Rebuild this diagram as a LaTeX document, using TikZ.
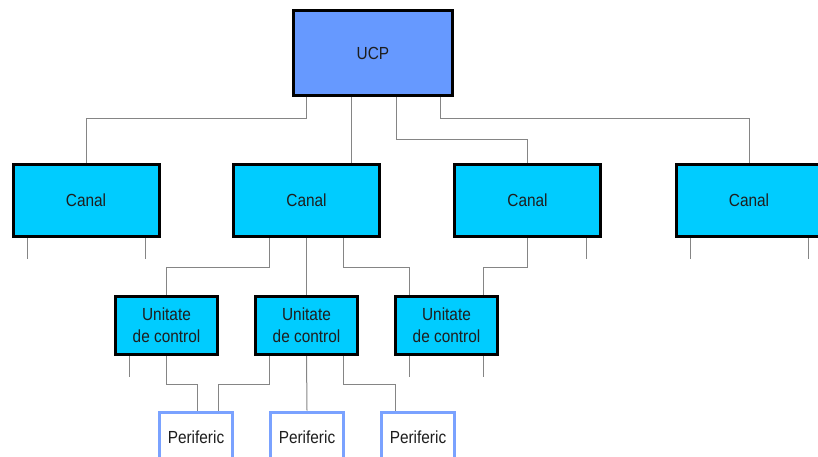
\documentclass[tikz,border=0pt]{standalone}
\usepackage{fontspec}
\setmainfont{Liberation Sans}[FakeStretch=0.88]
\usetikzlibrary{positioning, calc}
\definecolor{ucpBlue}{HTML}{6699FF}
\definecolor{canalCyan}{HTML}{00CCFF}
\definecolor{perBlue}{HTML}{7AA2FF}
\definecolor{linkGray}{HTML}{858585}
\definecolor{txtDark}{HTML}{1E1E1E}

\begin{document}
\begin{tikzpicture}[x=1pt, y=-1pt,
      box/.style={rectangle, draw=black, line width=3pt, align=center,
                  text=txtDark, font=\fontsize{17.5}{22}\selectfont},
      ucpbox/.style={box, fill=ucpBlue, minimum width=159pt, minimum height=85pt},
      canalbox/.style={box, fill=canalCyan, minimum width=146pt, minimum height=72pt},
      unitbox/.style={box, fill=canalCyan, minimum width=102pt, minimum height=58pt},
      perbox/.style={box, draw=perBlue, fill=white, minimum width=73pt, minimum height=50pt},
      link/.style={draw=linkGray, line width=1pt}
    ]
    \useasboundingbox (0,0) rectangle (818,457);
    \clip (0,0) rectangle (818,457);

    \node[ucpbox] (ucp) at (373,53) {UCP};

    \node[canalbox] (c1) at (86,200.5)    {Canal};
    \node[canalbox] (c2) at (306.5,200.5) {Canal};
    \node[canalbox] (c3) at (527.5,200.5) {Canal};
    \node[canalbox] (c4) at (749,200.5)   {Canal};

    \node[unitbox] (u1) at (166.5,325.5) {Unitate\\de control};
    \node[unitbox] (u2) at (306.5,325.5) {Unitate\\de control};
    \node[unitbox] (u3) at (446.5,325.5) {Unitate\\de control};

    \node[perbox] (p1) at (196,437) {Periferic};
    \node[perbox] (p2) at (307,437) {Periferic};
    \node[perbox] (p3) at (418,437) {Periferic};

    \draw[link] ([xshift=-67pt]ucp.south) -- ++(0,22) -| (c1.north);
    \draw[link] ([xshift=-22pt]ucp.south) -- ([xshift=-22pt]ucp.south |- c2.north);
    \draw[link] ([xshift=23pt]ucp.south) -- ++(0,43) -| (c3.north);
    \draw[link] ([xshift=67pt]ucp.south) -- ++(0,22) -| (c4.north);

    \draw[link] ([xshift=-37pt]c2.south) -- ++(0,29) -| (u1.north);
    \draw[link] (c2.south) -- (u2.north);
    \draw[link] ([xshift=37pt]c2.south) -- ++(0,29) -| ([xshift=-37pt]u3.north);
    \draw[link] (c3.south) -- ++(0,29) -| ([xshift=37pt]u3.north);

    \draw[link] (u1.south) -- ++(0,28) -| ([xshift=1pt]p1.north);
    \draw[link] ([xshift=-37pt]u2.south) -- ++(0,28) -| ([xshift=22pt]p1.north);
    \draw[link] (u2.south) -- (p2.north);
    \draw[link] ([xshift=37pt]u2.south) -- ++(0,28) -| ([xshift=-23pt]p3.north);

    \foreach \n/\dx in {c1/-59, c1/59, c3/59, c4/-59, c4/59}
      \draw[link] ([xshift=\dx pt]\n.south) -- ++(0,21);
    \foreach \n/\dx in {u1/-37, u3/-37, u3/37}
      \draw[link] ([xshift=\dx pt]\n.south) -- ++(0,21);
  \end{tikzpicture}
\end{document}
